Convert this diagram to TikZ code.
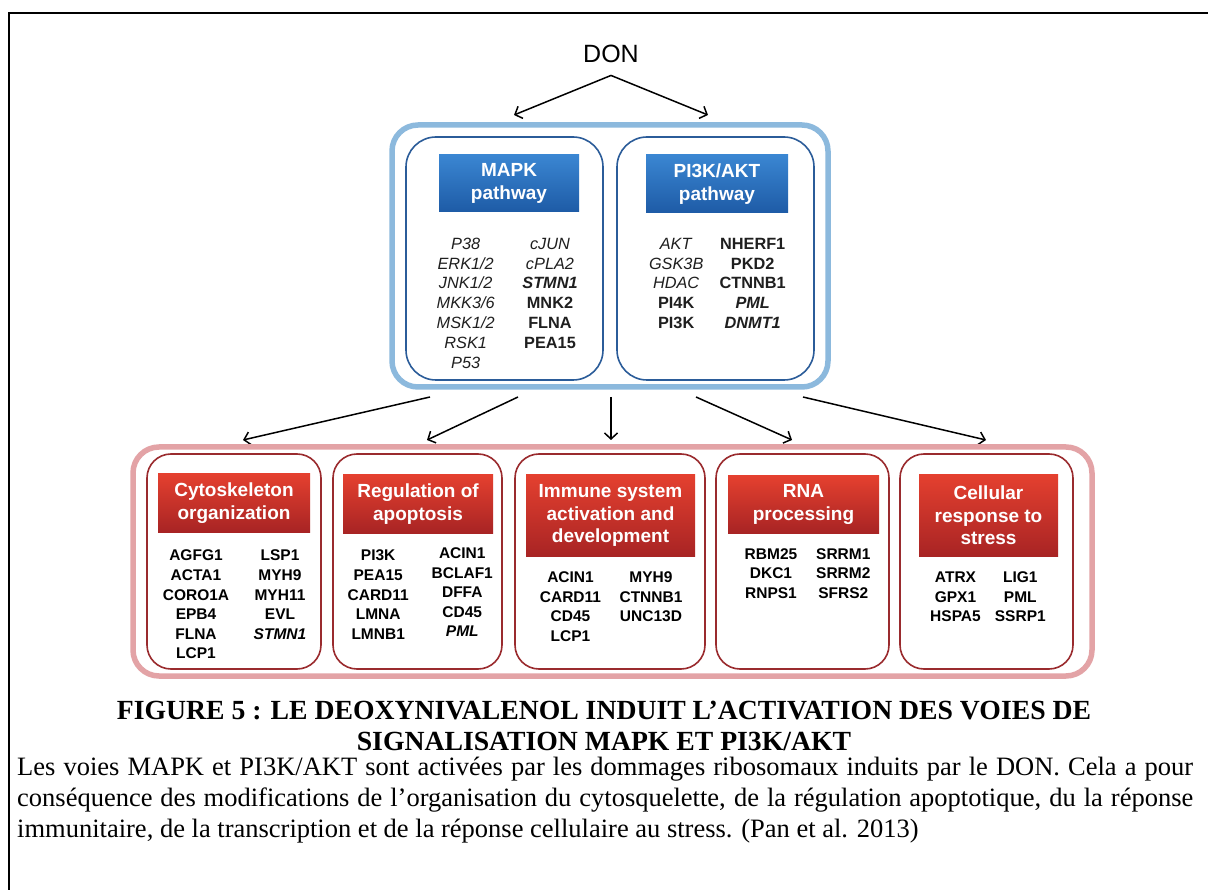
\documentclass[tikz,border=0pt]{standalone}
\usepackage{fontspec}
\setmainfont{Liberation Serif}
\newfontfamily\arial{Liberation Sans}
\usetikzlibrary{arrows.meta}
\definecolor{blueL}{HTML}{8CB9DD}
\definecolor{blueD}{HTML}{2B5C99}
\definecolor{blueTop}{HTML}{3A86D2}
\definecolor{blueBot}{HTML}{1E5BA6}
\definecolor{redL}{HTML}{E3A3A6}
\definecolor{redD}{HTML}{9A2B2E}
\definecolor{redTop}{HTML}{E4402F}
\definecolor{redBot}{HTML}{A82424}
\newcommand{\gcol}[1]{\begin{tabular}{@{}c@{}}#1\end{tabular}}
\begin{document}
\begin{tikzpicture}[x=1pt,y=-1pt,
  outerblue/.style={draw=blueL, line width=5.5pt, rounded corners=26pt, inner sep=0},
  innerblue/.style={draw=blueD, line width=1.6pt, rounded corners=30pt, inner sep=0},
  outerred/.style={draw=redL, line width=5.5pt, rounded corners=26pt, inner sep=0},
  innerred/.style={draw=redD, line width=1.6pt, rounded corners=24pt, inner sep=0},
  headblue/.style={top color=blueTop, bottom color=blueBot, text=white, inner sep=0, align=center,
    font=\arial\bfseries\fontsize{19}{22.5}\selectfont},
  headred/.style={top color=redTop, bottom color=redBot, text=white, inner sep=0, align=center,
    font=\arial\bfseries\fontsize{19}{22.5}\selectfont},
  bluegenes/.style={anchor=north, inner sep=0, text=black!88, font=\arial\fontsize{16.3}{19.9}\selectfont},
  redgenes/.style={anchor=north, inner sep=0, text=black, font=\arial\bfseries\fontsize{15.5}{19.6}\selectfont},
  arr/.style={draw=black, line width=1.5pt, -{Straight Barb[length=6pt,width=13pt,line width=1.5pt]}},
  capt/.style={inner sep=0, anchor=base},
]
\useasboundingbox (0,0) rectangle (1208,890);
\fill[white] (0,0) rectangle (1208,890);
% frame
\draw[line width=2.6pt] (9,890) -- (9,13) -- (1208,13);

% DON
\node[inner sep=0, anchor=base, font=\arial\fontsize{25}{30}\selectfont] (don) at (611,63) {DON};
\coordinate (tipL) at (514,115);
\coordinate (tipR) at (708,115);
\draw[arr] ([yshift=-12pt]don.south) -- (tipL);
\draw[arr] ([yshift=-12pt]don.south) -- (tipR);

% blue group
\node[outerblue, minimum width=436, minimum height=262] (blueouter) at (610,256) {};
\node[innerblue, minimum width=197, minimum height=243] (mapkbox) at (504.5,258.5) {};
\node[innerblue, minimum width=197, minimum height=243] (pibox) at (715.5,258.5) {};
\node[headblue, minimum width=140, minimum height=57] (mapkhead) at (509,183.5) {MAPK\\pathway};
\node[headblue, minimum width=142, minimum height=58] (pihead) at (717,184) {PI3K/AKT\\pathway};
\node[bluegenes] (mapkL) at (465.7,235) {\gcol{\textit{P38}\\\textit{ERK1/2}\\\textit{JNK1/2}\\\textit{MKK3/6}\\\textit{MSK1/2}\\\textit{RSK1}\\\textit{P53}}};
\node[bluegenes] (mapkR) at (550,235) {\gcol{\textit{cJUN}\\\textit{cPLA2}\\\textbf{\textit{STMN1}}\\\textbf{MNK2}\\\textbf{FLNA}\\\textbf{PEA15}}};
\node[bluegenes] (piL) at (676.2,235) {\gcol{\textit{AKT}\\\textit{GSK3B}\\\textit{HDAC}\\\textbf{PI4K}\\\textbf{PI3K}}};
\node[bluegenes] (piR) at (752.7,235) {\gcol{\textbf{NHERF1}\\\textbf{PKD2}\\\textbf{CTNNB1}\\\textbf{\textit{PML}}\\\textbf{\textit{DNMT1}}}};

% arrows down
\coordinate (s1) at (430,397); \coordinate (e1) at (243,440);
\coordinate (s2) at (518,397); \coordinate (e2) at (427,440);
\coordinate (s3) at (611,397); \coordinate (e3) at (611,440);
\coordinate (s4) at (696,397); \coordinate (e4) at (792,440);
\coordinate (s5) at (803,397); \coordinate (e5) at (986,440);
\foreach \i in {1,...,5}{\draw[arr] (s\i) -- (e\i);}

% red group
\node[outerred, minimum width=959, minimum height=229] (redouter) at (612.5,561.5) {};
\node[innerred, minimum width=174, minimum height=215] (b1) at (234,561.5) {};
\node[innerred, minimum width=169, minimum height=215] (b2) at (417.5,561.5) {};
\node[innerred, minimum width=190, minimum height=215] (b3) at (610,561.5) {};
\node[innerred, minimum width=173, minimum height=215] (b4) at (802.5,561.5) {};
\node[innerred, minimum width=173, minimum height=215] (b5) at (986.5,561.5) {};

\node[headred, minimum width=152, minimum height=58] (h1) at (234,503) {Cytoskeleton\\organization};
\node[headred, minimum width=150, minimum height=58] (h2) at (418,504) {Regulation of\\apoptosis};
\node[headred, minimum width=169, minimum height=81] (h3) at (610.5,515.5) {Immune system\\activation and\\development};
\node[headred, minimum width=151, minimum height=57] (h4) at (803.5,504.5) {RNA\\processing};
\node[headred, minimum width=139, minimum height=81] (h5) at (988.5,515.5) {Cellular\\response to\\stress};

\node[redgenes] (g1L) at (196,546.9) {\gcol{AGFG1\\ACTA1\\CORO1A\\EPB4\\FLNA\\LCP1}};
\node[redgenes] (g1R) at (280,546.9) {\gcol{LSP1\\MYH9\\MYH11\\EVL\\\textit{STMN1}}};
\node[redgenes] (g2L) at (378.2,546.9) {\gcol{PI3K\\PEA15\\CARD11\\LMNA\\LMNB1}};
\node[redgenes] (g2R) at (462.3,544.6) {\gcol{ACIN1\\BCLAF1\\DFFA\\CD45\\\textit{PML}}};
\node[redgenes] (g3L) at (570.5,568.6) {\gcol{ACIN1\\CARD11\\CD45\\LCP1}};
\node[redgenes] (g3R) at (651,568.6) {\gcol{MYH9\\CTNNB1\\UNC13D}};
\node[redgenes] (g4L) at (771,545.2) {\gcol{RBM25\\DKC1\\RNPS1}};
\node[redgenes] (g4R) at (843.3,545.2) {\gcol{SRRM1\\SRRM2\\SFRS2}};
\node[redgenes] (g5L) at (955.5,568.6) {\gcol{ATRX\\GPX1\\HSPA5}};
\node[redgenes] (g5R) at (1020.3,568.6) {\gcol{LIG1\\PML\\SSRP1}};

% caption
\node[capt, font=\bfseries\fontsize{27.7}{32}\selectfont] (t1) at (604,719) {FIGURE 5 : LE DEOXYNIVALENOL INDUIT L’ACTIVATION DES VOIES DE};
\node[capt, font=\bfseries\fontsize{27.7}{32}\selectfont] (t2) at (604,750) {SIGNALISATION MAPK ET PI3K/AKT};
\node[capt, anchor=base west, font=\fontsize{26.5}{30}\selectfont] (c1) at (17,775) {\makebox[1176pt][s]{Les voies MAPK et PI3K/AKT sont activées par les dommages ribosomaux induits par le DON. Cela a pour}};
\node[capt, anchor=base west, font=\fontsize{26.5}{30}\selectfont] (c2) at (17,806) {\makebox[1176pt][s]{conséquence des modifications de l’organisation du cytosquelette, de la régulation apoptotique, du la réponse}};
\node[capt, anchor=base west, font=\fontsize{26.5}{30}\selectfont] (c3) at (17,837) {immunitaire, de la transcription et de la réponse cellulaire au stress. (Pan et al. 2013)};
\end{tikzpicture}
\end{document}
